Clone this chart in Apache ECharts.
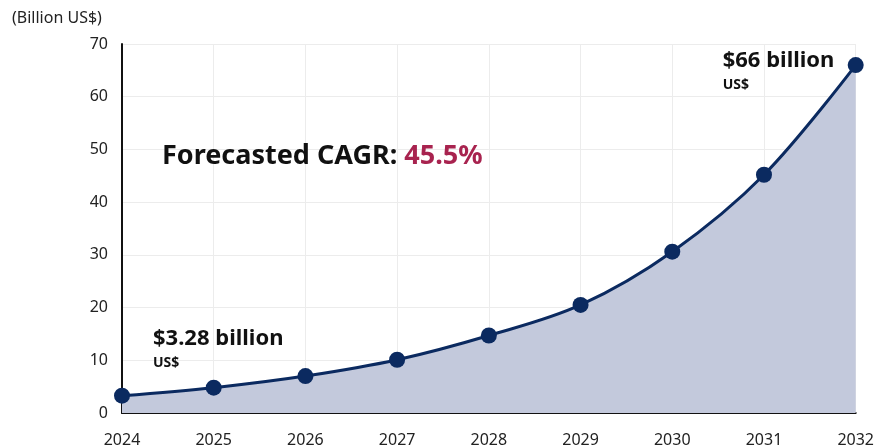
<!DOCTYPE html>
<html><head><meta charset="utf-8">
<script src="https://cdn.jsdelivr.net/npm/echarts@6/dist/echarts.min.js"></script>
<style>html,body{margin:0;padding:0;background:#fff}#c{width:877px;height:448px}</style>
</head><body><div id="c"></div>
<script>
const years = ['2024','2025','2026','2027','2028','2029','2030','2031','2032'];
const marketSize = [3.28, 4.8, 7.0, 10.1, 14.7, 20.5, 30.6, 45.2, 66];
const yTicks = [0, 10, 20, 30, 40, 50, 60, 70];
const unitLabel = '(Billion US$)';
const cagrText = 'Forecasted CAGR: ';
const cagrValue = '45.5%';
const startLabel = '$3.28 billion';
const endLabel = '$66 billion';
const currency = 'US$';

const FONT = '"Noto Sans",sans-serif';
const chart = echarts.init(document.getElementById('c'));
const richStyle = {
  a: { fontSize: 22, fontWeight: 'bold', color: '#111', fontFamily: FONT, lineHeight: 28 },
  b: { fontSize: 14, fontWeight: 'bold', color: '#111', fontFamily: FONT, lineHeight: 20 }
};
const dataItems = marketSize.map((v, i) => {
  const item = { value: v };
  if (i === 0) {
    item.label = { show: true, position: 'top', align: 'left', offset: [31, -10],
      formatter: '{a|' + startLabel + '}\n{b|' + currency + '}', rich: richStyle };
  }
  if (i === marketSize.length - 1) {
    item.label = { show: true, position: 'left', align: 'left', offset: [-120, 6],
      formatter: '{a|' + endLabel + '}\n{b|' + currency + '}', rich: richStyle };
  }
  return item;
});
chart.setOption({
  animation: false,
  grid: { left: 122, right: 19, top: 44, bottom: 32, containLabel: false },
  xAxis: {
    type: 'category', data: years, boundaryGap: false,
    axisLine: { show: true, lineStyle: { color: '#111', width: 2 } },
    axisTick: { show: false },
    axisLabel: { color: '#222', fontSize: 16, fontFamily: FONT, margin: 19, interval: 0 },
    splitLine: { show: true, lineStyle: { color: '#ececec', width: 1 } }
  },
  yAxis: {
    type: 'value', min: yTicks[0], max: yTicks[yTicks.length - 1], interval: 10,
    axisLine: { show: true, lineStyle: { color: '#111', width: 2 } },
    axisTick: { show: false },
    axisLabel: { color: '#222', fontSize: 16, fontFamily: FONT, margin: 14 },
    splitLine: { show: true, lineStyle: { color: '#ececec', width: 1 } }
  },
  graphic: [
    { type: 'text', left: 12, top: 10, z: 100, style: { text: unitLabel, fontSize: 16, fill: '#222', fontFamily: FONT } },
    { type: 'text', left: 162, top: 143, z: 100, style: {
      rich: { a: { fontSize: 27, fontWeight: 'bold', fill: '#111', fontFamily: FONT },
              b: { fontSize: 27, fontWeight: 'bold', fill: '#a8234f', fontFamily: FONT } },
      text: '{a|' + cagrText + '}{b|' + cagrValue + '}' } }
  ],
  series: [{
    type: 'line', data: dataItems, smooth: 0.35,
    symbol: 'circle', symbolSize: 16,
    itemStyle: { color: '#0b2a60' },
    lineStyle: { color: '#0b2a60', width: 3 },
    areaStyle: { color: '#c3c9dc', opacity: 1 },
    z: 3
  }]
});
</script></body></html>
